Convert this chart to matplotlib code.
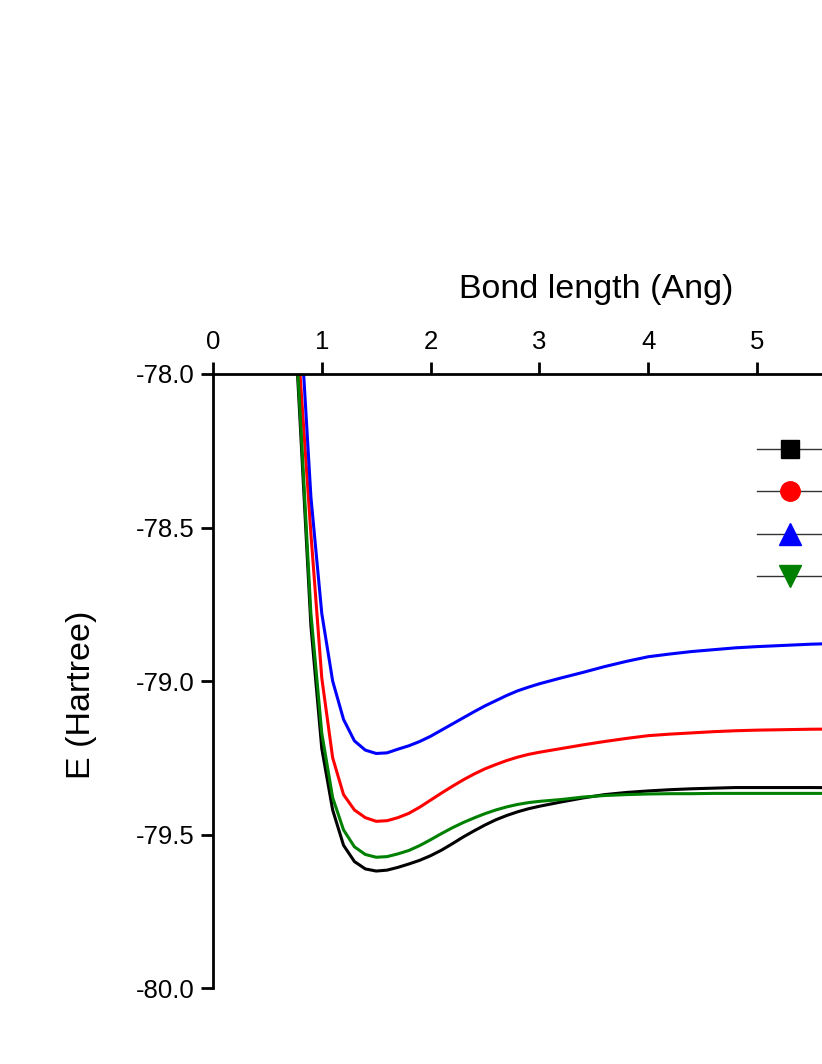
import matplotlib
matplotlib.use("Agg")
import matplotlib.pyplot as plt
from matplotlib.lines import Line2D

plt.rcParams['font.family'] = ['Liberation Sans', 'DejaVu Sans']

# bond length (Ang)
bond = [0.7, 0.8, 0.9, 1.0, 1.1, 1.2, 1.3, 1.4, 1.5, 1.6, 1.7, 1.8, 1.9, 2.0,
        2.1, 2.2, 2.3, 2.4, 2.5, 2.6, 2.7, 2.8, 2.9, 3.0,
        3.2, 3.4, 3.6, 3.8, 4.0, 4.2, 4.4, 4.6, 4.8, 5.0,
        5.5, 6.0]

# energies (Hartree)
e_black = [-77.50, -78.15, -78.82, -79.22, -79.42, -79.535, -79.588, -79.612, -79.619, -79.616,
           -79.607, -79.596, -79.584, -79.569,
           -79.551, -79.530, -79.508, -79.488, -79.469, -79.452, -79.438, -79.426, -79.416, -79.408,
           -79.394, -79.381, -79.370, -79.363, -79.358, -79.354, -79.351, -79.349, -79.347, -79.347,
           -79.347, -79.348]
e_red = [-77.35, -78.00, -78.52, -78.99, -79.25, -79.37, -79.42, -79.445, -79.457, -79.455,
         -79.445, -79.431, -79.411, -79.388,
         -79.365, -79.343, -79.322, -79.303, -79.286, -79.272, -79.259, -79.248, -79.239, -79.232,
         -79.220, -79.208, -79.197, -79.187, -79.178, -79.173, -79.169, -79.165, -79.162, -79.160,
         -79.157, -79.156]
e_blue = [-77.20, -77.80, -78.40, -78.78, -79.00, -79.125, -79.195, -79.225, -79.236, -79.234,
          -79.222, -79.211, -79.197, -79.180,
          -79.160, -79.140, -79.120, -79.100, -79.081, -79.064, -79.047, -79.032, -79.020, -79.009,
          -78.990, -78.972, -78.953, -78.936, -78.921, -78.912, -78.904, -78.898, -78.892, -78.888,
          -78.880, -78.875]
e_green = [-77.50, -78.12, -78.78, -79.17, -79.38, -79.485, -79.54, -79.565, -79.574, -79.572,
           -79.563, -79.552, -79.536, -79.517,
           -79.497, -79.478, -79.461, -79.446, -79.432, -79.420, -79.410, -79.402, -79.396, -79.392,
           -79.386, -79.378, -79.373, -79.370, -79.368, -79.367, -79.367, -79.366, -79.366, -79.366,
           -79.366, -79.366]

series = [e_black, e_red, e_blue, e_green]
colors = ['black', '#ff0000', '#0000ff', '#008000']
markers = ['s', 'o', '^', 'v']
msizes = [13, 14, 16, 16]

fig = plt.figure(figsize=(8.22, 10.64), dpi=100)
# axes runs past the right edge of the picture (x up to 7)
ax = fig.add_axes([0.2591, 0.0714, 0.9265, 0.5771])

for e, c in zip(series, colors):
    ax.plot(bond, e, color=c, lw=2.2)

ax.set_xlim(0, 7)
ax.set_ylim(-80.0, -78.0)
ax.set_xticks(range(0, 6))
ax.set_yticks([-80.0, -79.5, -79.0, -78.5, -78.0])
ax.set_yticklabels(['-80.0', '-79.5', '-79.0', '-78.5', '-78.0'])

ax.xaxis.tick_top()
ax.spines['bottom'].set_visible(False)
ax.spines['right'].set_visible(False)
ax.spines['top'].set_linewidth(2)
ax.spines['left'].set_linewidth(2)
ax.tick_params(axis='both', direction='out', length=8.5, width=2, labelsize=18.5, pad=5)
ax.tick_params(axis='x', pad=6)

fig.text(596 / 822, 1 - 289 / 1064, 'Bond length (Ang)', fontsize=24.5,
         ha='center', va='center')
fig.text(81 / 822, 1 - 695 / 1064, 'E (Hartree)', fontsize=24.5,
         ha='center', va='center', rotation=90)

handles = [Line2D([], [], color='#333333', lw=1, marker=m, markersize=s,
                  markerfacecolor=c, markeredgecolor=c)
           for m, s, c in zip(markers, msizes, colors)]
ax.legend(handles, ['', '', '', ''], loc='upper left', bbox_to_anchor=(0.714, 0.895),
          frameon=False, fontsize=18, handlelength=2.65, handletextpad=0.4,
          borderpad=0, borderaxespad=0, labelspacing=0.74)

fig.savefig('out.png', dpi=100)
